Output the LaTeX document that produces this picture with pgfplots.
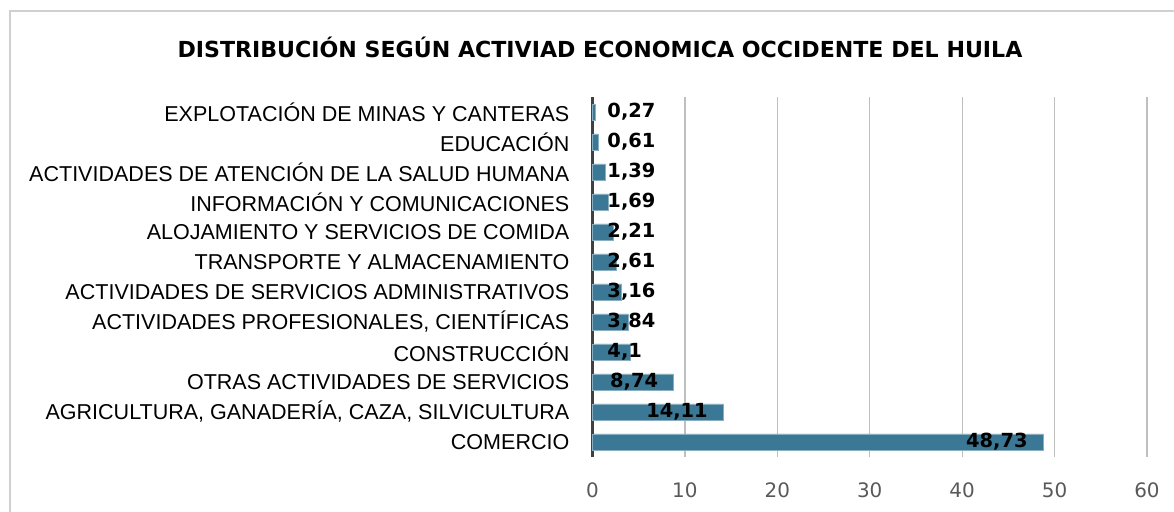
\documentclass[border=0pt]{standalone}
\usepackage{pgfplots}
\pgfplotsset{compat=1.18}
\usepackage{pgfplotstable}
\usepackage{fontspec}
\setmainfont{DejaVu Sans}
\newfontfamily\catfont{Liberation Sans}
\definecolor{barcol}{HTML}{3A7895}
\definecolor{gridcol}{HTML}{BFBFBF}
\definecolor{axcol}{HTML}{404040}
\definecolor{tickcol}{HTML}{595959}
\definecolor{framecol}{HTML}{D0D0D0}
\pgfplotstableread{
y x
0 48.73
1 14.11
2 8.74
3 4.1
4 3.84
5 3.16
6 2.61
7 2.21
8 1.69
9 1.39
10 0.61
11 0.27
}\datatable
\begin{document}
\begin{tikzpicture}[x=1bp,y=1bp]
\clip (0bp,0bp) rectangle (1174bp,512bp);
\path[use as bounding box] (0bp,0bp) rectangle (1174bp,512bp);
\draw[framecol, line width=1.5bp] (10bp,-5bp) -- (10bp,501bp) -- (1180bp,501bp);
\node[font=\fontsize{22.2}{26}\selectfont\bfseries, anchor=center] at (600bp,465bp) {DISTRIBUCIÓN SEGÚN ACTIVIAD ECONOMICA OCCIDENTE DEL HUILA};
\begin{axis}[
  at={(592.5bp,55bp)}, anchor=south west,
  scale only axis, width=554.5bp, height=360bp,
  xmin=0, xmax=60, ymin=-0.5, ymax=11.5,
  xtick={0,10,...,60},
  ytick={0,...,11},
  yticklabels={COMERCIO, {AGRICULTURA, GANADERÍA, CAZA, SILVICULTURA}, OTRAS ACTIVIDADES DE SERVICIOS, CONSTRUCCIÓN, {ACTIVIDADES PROFESIONALES, CIENTÍFICAS}, ACTIVIDADES DE SERVICIOS ADMINISTRATIVOS, TRANSPORTE Y ALMACENAMIENTO, ALOJAMIENTO Y SERVICIOS DE COMIDA, INFORMACIÓN Y COMUNICACIONES, ACTIVIDADES DE ATENCIÓN DE LA SALUD HUMANA, EDUCACIÓN, EXPLOTACIÓN DE MINAS Y CANTERAS},
  axis line style={draw=none},
  major tick length=0pt,
  xmajorgrids,
  grid style={gridcol, line width=1.2bp},
  extra x ticks={0},
  extra x tick labels={},
  extra x tick style={grid style={axcol, line width=2.8bp}},
  xticklabel style={font=\fontsize{20}{24}\selectfont, text=tickcol, inner sep=0pt, yshift=-26bp},
  yticklabel style={font=\catfont\fontsize{21.6}{24}\selectfont, text=black, inner sep=0pt, xshift=-23bp},
  /pgf/number format/assume math mode=true,
  /pgf/number format/use comma,
  clip=false,
]
\addplot[xbar, bar shift=0pt, bar width=16bp, fill=barcol, draw=barcol!60!white, line width=0.6bp] table[x=x, y=y] {\datatable};
\addplot[draw=none, mark=none, nodes near coords, point meta=explicit,
  x filter/.expression={x<6 ? nan : x},
  nodes near coords style={anchor=east, xshift=-15bp, inner sep=0pt, font=\fontsize{19.5}{24}\selectfont\bfseries, text=black}]
  table[x=x, y=y, meta=x] {\datatable};
\addplot[draw=none, mark=none, nodes near coords, point meta=explicit,
  x filter/.expression={x<6 ? 1.6 : nan},
  nodes near coords style={anchor=west, inner sep=0pt, font=\fontsize{19.5}{24}\selectfont\bfseries, text=black}]
  table[x=x, y=y, meta=x] {\datatable};
\end{axis}
\end{tikzpicture}
\end{document}
